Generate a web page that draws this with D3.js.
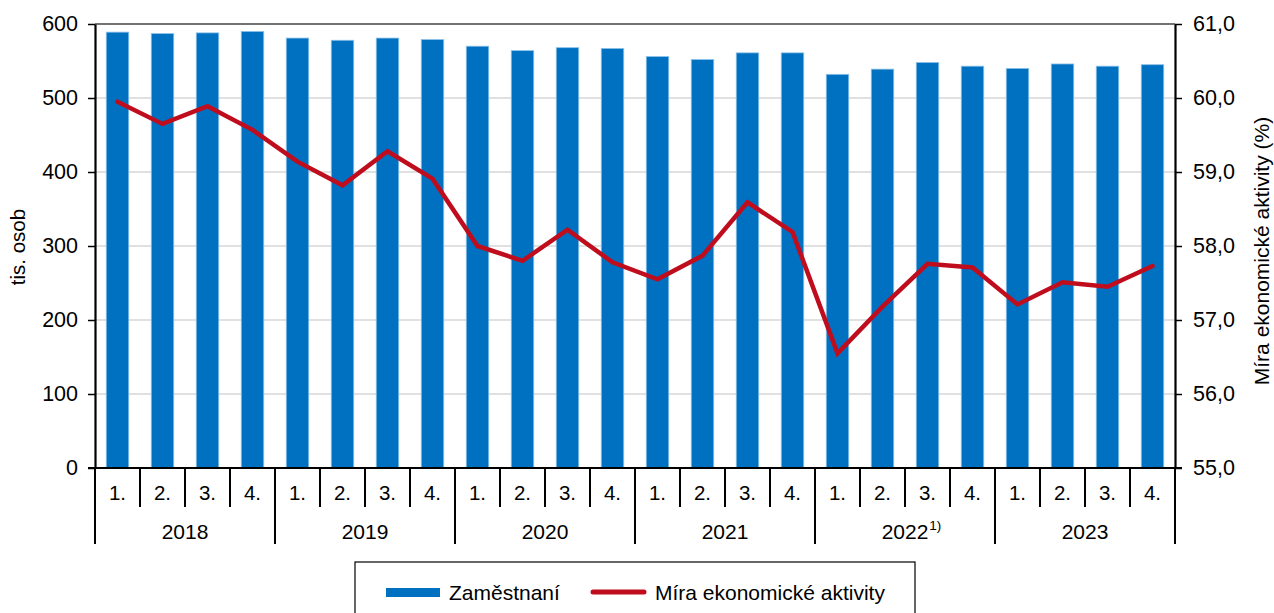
<!DOCTYPE html>
<html>
<head>
<meta charset="utf-8">
<script src="https://cdn.jsdelivr.net/npm/d3@7"></script>
<style>
  body { margin: 0; background: #fff; }
  svg { display: block; font-family: "Liberation Sans", Arial, sans-serif; }
</style>
</head>
<body>
<div id="chart"></div>
<script>
const years = ["2018", "2019", "2020", "2021", "2022", "2023"];
const quarters = ["1.", "2.", "3.", "4."];
const yearNotes = {"2022": "1)"};

// zaměstnaní, tis. osob
const employed = [
  589, 587, 588, 590,
  581, 578, 581, 579,
  570, 564, 568, 567,
  556, 552, 561, 561,
  532, 539, 548, 543,
  540, 546, 543, 545
];

// míra ekonomické aktivity, %
const activityRate = [
  59.95, 59.65, 59.89, 59.57,
  59.14, 58.82, 59.28, 58.91,
  58.00, 57.80, 58.22, 57.78,
  57.55, 57.87, 58.59, 58.19,
  56.55, 57.18, 57.76, 57.71,
  57.21, 57.51, 57.45, 57.73
];

const leftTicks = [0, 100, 200, 300, 400, 500, 600];
const rightTicks = [55, 56, 57, 58, 59, 60, 61];

const seriesNames = ["Zaměstnaní", "Míra ekonomické aktivity"];

const W = 1274, H = 613;
const margin = {top: 24, right: 99, bottom: 145, left: 95};
const blue = "#0070c0", red = "#c00d1e";

const svg = d3.select("#chart").append("svg")
  .attr("width", W).attr("height", H);

const x0 = margin.left, x1 = W - margin.right;
const y0 = H - margin.bottom, y1 = margin.top;

const idx = d3.range(employed.length);
const x = d3.scaleBand().domain(idx).range([x0, x1]).paddingInner(0.5).paddingOuter(0.25);
const xb = d3.scaleBand().domain(idx).range([x0, x1]);
const yL = d3.scaleLinear().domain([0, 600]).range([y0, y1]);
const yR = d3.scaleLinear().domain([55, 61]).range([y0, y1]);

// gridlines
svg.append("g").selectAll("line")
  .data(leftTicks.slice(1, -1))
  .enter().append("line")
  .attr("x1", x0).attr("x2", x1)
  .attr("y1", d => yL(d)).attr("y2", d => yL(d))
  .attr("stroke", "#c4c4c4").attr("stroke-width", 1.2);

// top frame line
svg.append("line")
  .attr("x1", x0).attr("x2", x1)
  .attr("y1", yL(600)).attr("y2", yL(600))
  .attr("stroke", "#444").attr("stroke-width", 1.6);

// bars
svg.append("g").selectAll("rect")
  .data(employed)
  .enter().append("rect")
  .attr("x", (d, i) => x(i))
  .attr("width", x.bandwidth())
  .attr("y", d => yL(d))
  .attr("height", d => yL(0) - yL(d))
  .attr("fill", blue)
  .attr("stroke", "#8cc2ea").attr("stroke-width", 0.8);

// line
const line = d3.line()
  .x((d, i) => x(i) + x.bandwidth() / 2)
  .y(d => yR(d));

svg.append("path")
  .datum(activityRate)
  .attr("d", line)
  .attr("fill", "none")
  .attr("stroke", red)
  .attr("stroke-width", 4.5)
  .attr("stroke-linejoin", "miter")
  .attr("stroke-linecap", "round");

// left axis
const axL = svg.append("g")
  .attr("transform", "translate(" + x0 + ",0)")
  .call(d3.axisLeft(yL).tickValues(leftTicks).tickSize(7).tickSizeOuter(0).tickPadding(10));
axL.select(".domain").attr("stroke", "#000").attr("stroke-width", 2.2);
axL.selectAll(".tick line").attr("stroke", "#000").attr("stroke-width", 1.5);
axL.selectAll(".tick text").attr("font-size", 21.5).attr("fill", "#000")
  .attr("font-family", "Liberation Sans, Arial, sans-serif");

// right axis
const axR = svg.append("g")
  .attr("transform", "translate(" + x1 + ",0)")
  .call(d3.axisRight(yR).tickValues(rightTicks).tickSize(7).tickSizeOuter(0).tickPadding(11)
    .tickFormat(d => d3.format(".1f")(d).replace(".", ",")));
axR.select(".domain").attr("stroke", "#000").attr("stroke-width", 2.2);
axR.selectAll(".tick line").attr("stroke", "#000").attr("stroke-width", 1.5);
axR.selectAll(".tick text").attr("font-size", 21.5).attr("fill", "#000")
  .attr("font-family", "Liberation Sans, Arial, sans-serif");

// bottom axis line
svg.append("line")
  .attr("x1", x0 - 7).attr("x2", x1 + 7)
  .attr("y1", y0).attr("y2", y0)
  .attr("stroke", "#000").attr("stroke-width", 2.2);

// category separators
const qBottom = y0 + 39, yBottom = y0 + 76;
const bounds = idx.map(i => xb(i)).concat([x1]);
svg.append("g").selectAll("line")
  .data(bounds)
  .enter().append("line")
  .attr("x1", d => d).attr("x2", d => d)
  .attr("y1", y0)
  .attr("y2", (d, i) => i % 4 === 0 ? yBottom : qBottom)
  .attr("stroke", "#000").attr("stroke-width", 2);

// quarter labels
svg.append("g").selectAll("text")
  .data(idx)
  .enter().append("text")
  .attr("x", i => xb(i) + xb.bandwidth() / 2)
  .attr("y", y0 + 32)
  .attr("text-anchor", "middle")
  .attr("font-size", 20.5)
  .text(i => quarters[i % 4]);

// year labels
const yearG = svg.append("g");
years.forEach((yr, k) => {
  const cx = xb(k * 4) + xb.bandwidth() * 2;
  const t = yearG.append("text")
    .attr("x", cx).attr("y", y0 + 71)
    .attr("text-anchor", "middle")
    .attr("font-size", 21)
    .text(yr);
  if (yearNotes[yr]) {
    const w = t.node().getComputedTextLength();
    yearG.append("text")
      .attr("x", cx + w / 2 + 1).attr("y", y0 + 62)
      .attr("font-size", 13.5)
      .text(yearNotes[yr]);
  }
});

// axis titles
svg.append("text")
  .attr("transform", "translate(25," + ((y0 + y1) / 2 + 1) + ") rotate(-90)")
  .attr("text-anchor", "middle")
  .attr("font-size", 20.5)
  .text("tis. osob");

svg.append("text")
  .attr("transform", "translate(1269," + ((y0 + y1) / 2 + 5) + ") rotate(-90)")
  .attr("text-anchor", "middle")
  .attr("font-size", 21)
  .text("Míra ekonomické aktivity (%)");

// legend
const lg = svg.append("g").attr("transform", "translate(355,562)");
lg.append("rect")
  .attr("width", 560).attr("height", 60)
  .attr("fill", "#fff").attr("stroke", "#000").attr("stroke-width", 1.2);
lg.append("rect")
  .attr("x", 31).attr("y", 26).attr("width", 54).attr("height", 9)
  .attr("fill", blue);
lg.append("text")
  .attr("x", 94).attr("y", 38).attr("font-size", 21)
  .text(seriesNames[0]);
lg.append("line")
  .attr("x1", 238).attr("x2", 289).attr("y1", 30).attr("y2", 30)
  .attr("stroke", red).attr("stroke-width", 5).attr("stroke-linecap", "round");
lg.append("text")
  .attr("x", 300).attr("y", 38).attr("font-size", 21)
  .text(seriesNames[1]);
</script>
</body>
</html>
